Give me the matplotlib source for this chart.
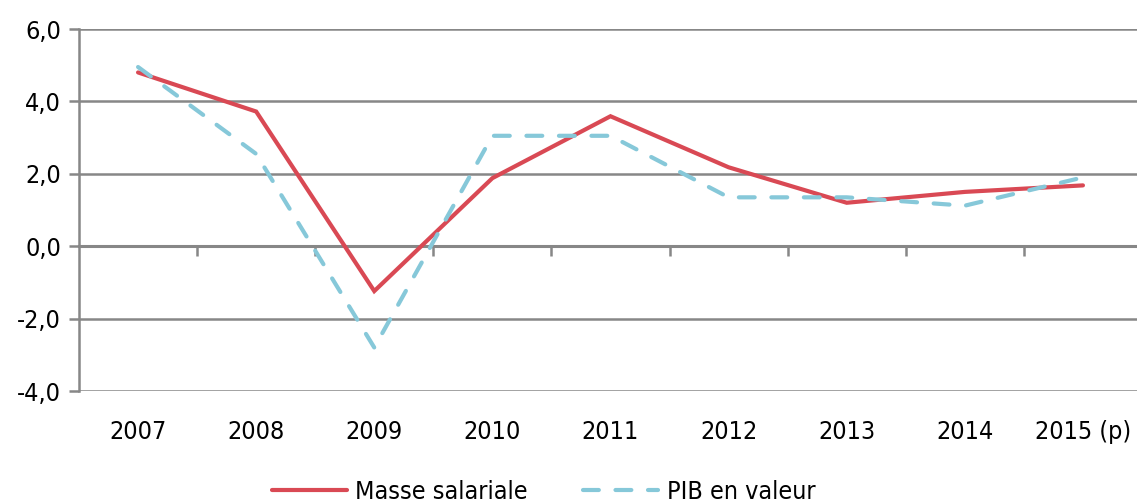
import matplotlib
matplotlib.use("Agg")
import matplotlib.pyplot as plt
from matplotlib import font_manager
import numpy as np

years = ["2007", "2008", "2009", "2010", "2011", "2012", "2013", "2014", "2015 (p)"]
masse_salariale = [4.8, 3.72, -1.24, 1.88, 3.59, 2.18, 1.2, 1.5, 1.68]
pib_valeur = [4.95, 2.55, -2.8, 3.05, 3.05, 1.35, 1.35, 1.12, 1.9]
yticks = [-4, -2, 0, 2, 4, 6]

# pick a narrow sans if available
fam = ['Liberation Sans', 'DejaVu Sans']
narrow = None
for f in font_manager.fontManager.ttflist:
    if f.name == 'Liberation Sans Narrow' and f.style == 'normal' and f.weight in (400, 'normal', 'regular'):
        narrow = f.fname
        break
if narrow is None:
    for f in font_manager.fontManager.ttflist:
        if 'condensed' in str(f.stretch).lower() and f.name == 'DejaVu Sans' and f.style == 'normal' \
                and f.weight in (400, 'normal', 'regular'):
            narrow = f.fname
            break
if narrow is not None:
    font_manager.fontManager.addfont(narrow)
    fp = font_manager.FontProperties(fname=narrow)
    fam = [fp.get_name()] + fam
plt.rcParams['font.family'] = fam
if narrow is not None and 'DejaVu' in narrow:
    plt.rcParams['font.stretch'] = 'condensed'

RED = "#D94954"
BLUE = "#86C8D9"
GRID = "#878787"

fig = plt.figure(figsize=(11.37, 5.04), dpi=100)
ax = fig.add_axes([79/1137, 1-391/504, (1142-79)/1137, (391-29)/504])

x = np.arange(len(years))
ax.plot(x, masse_salariale, color=RED, lw=3.0, solid_capstyle='round', solid_joinstyle='miter',
        label="Masse salariale", zorder=3)
ax.plot(x, pib_valeur, color=BLUE, lw=3.0, dashes=(3.8, 4.0), dash_capstyle='round',
        label="PIB en valeur", zorder=3)

ax.set_xlim(-0.5, len(years) - 0.5)
ax.set_ylim(-4, 6)
ax.set_yticks(yticks)
ax.set_yticklabels([f"{v:.1f}".replace(".", ",") for v in yticks], fontsize=18)
ax.yaxis.grid(True, color=GRID, lw=1.8)
ax.set_axisbelow(True)

for s in ["top", "right"]:
    ax.spines[s].set_visible(False)
ax.spines["left"].set_color(GRID)
ax.spines["left"].set_linewidth(1.8)
ax.spines["bottom"].set_visible(False)
ax.tick_params(axis="y", direction="out", length=7, width=1.8, color=GRID, pad=6)

ax.set_xticks(x)
ax.set_xticklabels(years, fontsize=18)
ax.tick_params(axis="x", length=0, pad=21)

# category axis at zero with boundary tick marks
sec = ax.secondary_xaxis(0.4)
sec.set_xticks(np.arange(0.5, len(years) - 0.5, 1.0))
sec.set_xticklabels([])
sec.tick_params(axis="x", direction="out", length=7, width=1.8, color=GRID)
sec.spines["bottom"].set_color(GRID)
sec.spines["bottom"].set_linewidth(2.2)

fig.legend(loc="lower center", bbox_to_anchor=(0.478, -0.045), ncol=2, frameon=False,
           fontsize=18, handlelength=3.0, columnspacing=2.2, handletextpad=0.35)

fig.savefig("out.png", dpi=100)
